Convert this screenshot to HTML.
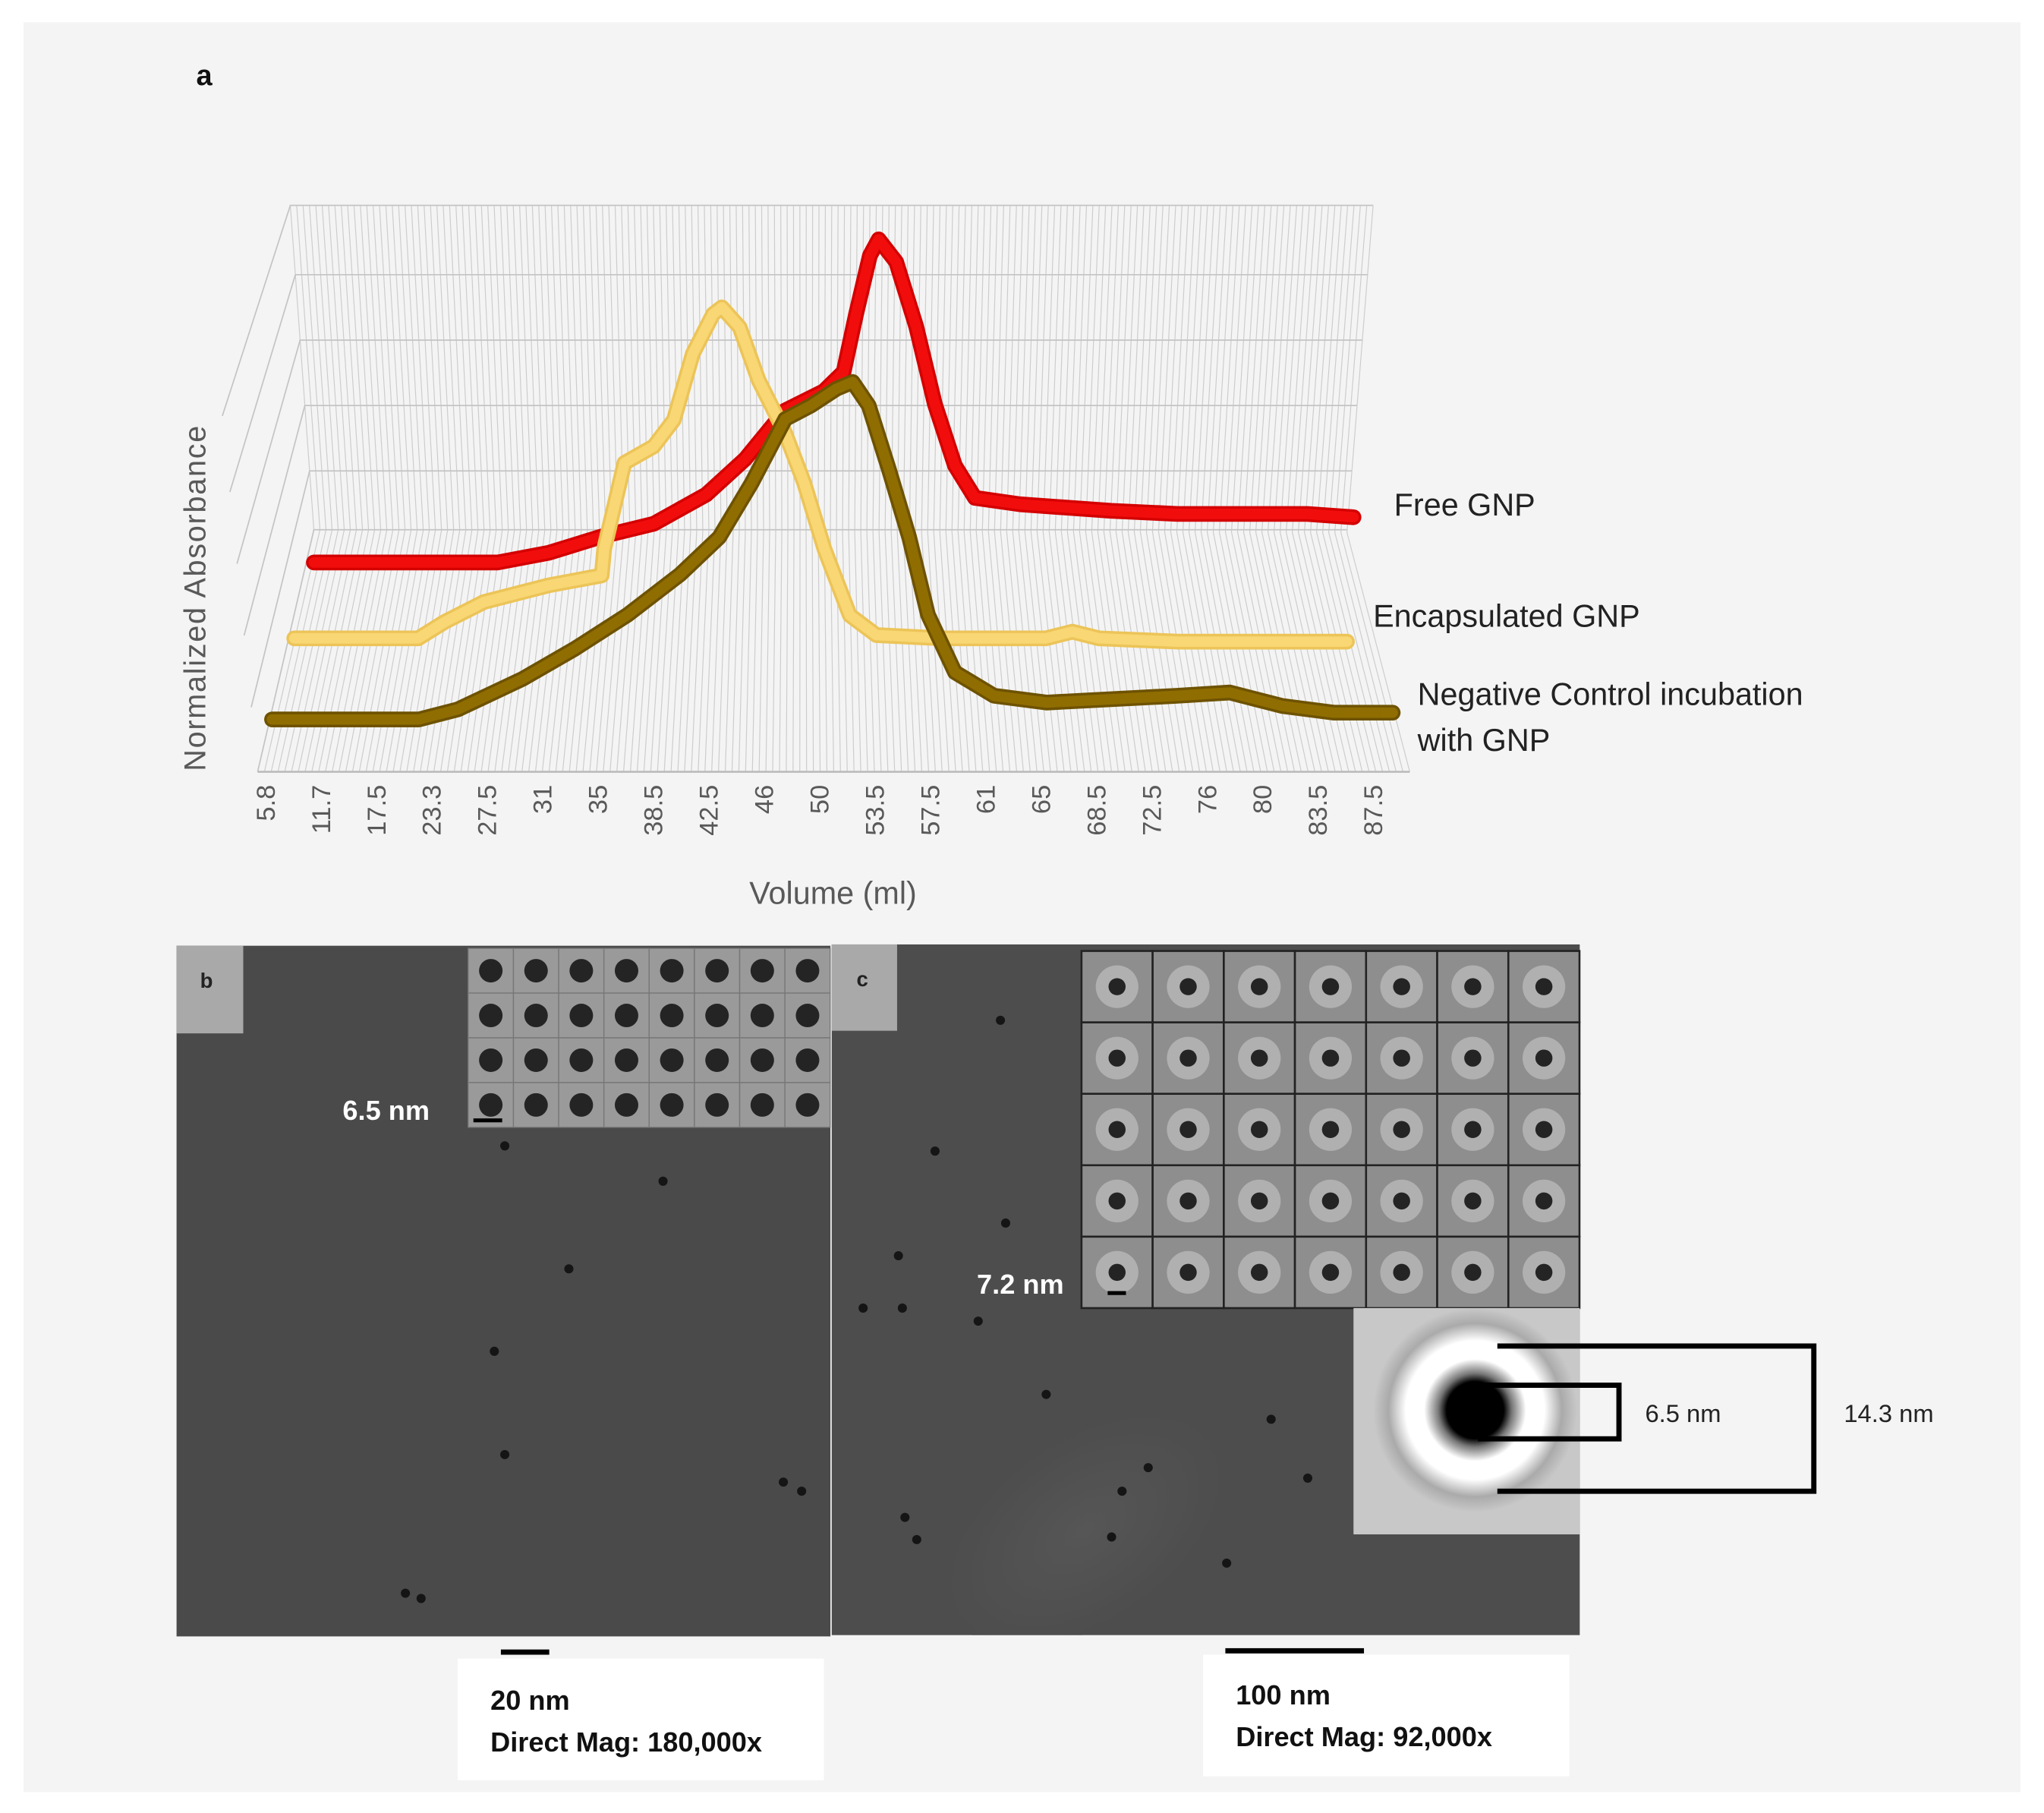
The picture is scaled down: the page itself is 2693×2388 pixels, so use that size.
<!DOCTYPE html>
<html><head><meta charset="utf-8">
<style>
html,body{margin:0;padding:0;background:#fff;}
svg{display:block;}
text{font-family:"Liberation Sans",sans-serif;}
</style></head>
<body>
<svg id="fig" width="2693" height="2388" viewBox="0 0 1563 1386" xmlns="http://www.w3.org/2000/svg">
  <defs>
    <radialGradient id="ringG" cx="0.5" cy="0.5" r="0.5">
      <stop offset="0" stop-color="#000"/>
      <stop offset="0.28" stop-color="#000"/>
      <stop offset="0.36" stop-color="#777"/>
      <stop offset="0.5" stop-color="#fff"/>
      <stop offset="0.68" stop-color="#fff"/>
      <stop offset="0.85" stop-color="#aaa"/>
      <stop offset="1" stop-color="#c8c8c8"/>
    </radialGradient>
    <radialGradient id="blurG" cx="0.5" cy="0.5" r="0.5">
      <stop offset="0" stop-color="#565656"/>
      <stop offset="1" stop-color="#4d4d4d"/>
    </radialGradient>
    <clipPath id="clipC"><rect x="636" y="722" width="572" height="528"/></clipPath>
  </defs>
  <rect x="18" y="17" width="1527" height="1353" fill="#f4f4f4"/>
  <text x="150" y="65" font-size="22" font-weight="bold" fill="#111">a</text>
  <g id="grid"></g>
  <g id="series"></g>
  <g id="ticks"></g>
  <text x="637" y="691" font-size="24" fill="#595959" text-anchor="middle">Volume (ml)</text>
  <text transform="translate(157,457) rotate(-90)" font-size="23" fill="#595959" text-anchor="middle" letter-spacing="1">Normalized Absorbance</text>
  <text x="1066" y="394" font-size="24" fill="#222">Free GNP</text>
  <text x="1050" y="479" font-size="24" fill="#222">Encapsulated GNP</text>
  <text x="1084" y="539" font-size="24" fill="#222">Negative Control incubation</text>
  <text x="1084" y="574" font-size="24" fill="#222">with GNP</text>

  <!-- Panel b -->
  <rect x="135" y="723" width="500" height="528" fill="#4a4a4a"/>
  <rect x="135" y="723" width="51" height="67" fill="#a9a9a9"/>
  <text x="153" y="755" font-size="16" font-weight="bold" fill="#222">b</text>
  <g id="gridB"></g>
  <text x="262" y="856" font-size="21" font-weight="bold" fill="#fff">6.5 nm</text>
  <rect x="362" y="855" width="22" height="3" fill="#000"/>

  <!-- Panel c -->
  <rect x="636" y="722" width="572" height="528" fill="#4d4d4d"/>
  <g clip-path="url(#clipC)">
    <ellipse cx="830" cy="1170" rx="120" ry="70" fill="url(#blurG)" transform="rotate(-35 830 1170)"/>
  </g>
  <rect x="636" y="722" width="50" height="66" fill="#a9a9a9"/>
  <text x="655" y="754" font-size="16" font-weight="bold" fill="#222">c</text>
  <g id="gridC"></g>
  <text x="747" y="989" font-size="21" font-weight="bold" fill="#fff">7.2 nm</text>
  <rect x="847" y="987" width="14" height="3" fill="#000"/>
  <g id="dots"></g>

  <rect x="1035" y="1000" width="173" height="173" fill="#c8c8c8"/>
  <circle cx="1128" cy="1078" r="78" fill="url(#ringG)"/>
  <polyline points="1145,1029 1387,1029 1387,1140 1145,1140" fill="none" stroke="#000" stroke-width="4"/>
  <polyline points="1130,1059 1238,1059 1238,1100 1130,1100" fill="none" stroke="#000" stroke-width="4"/>
  <text x="1258" y="1087" font-size="19" fill="#222">6.5 nm</text>
  <text x="1410" y="1087" font-size="19" fill="#222">14.3 nm</text>

  <rect x="383" y="1261" width="37" height="4" fill="#000"/>
  <rect x="937" y="1260" width="106" height="4" fill="#000"/>
  <rect x="350" y="1268" width="280" height="93" fill="#fff"/>
  <text x="375" y="1307" font-size="21" font-weight="bold" fill="#111">20 nm</text>
  <text x="375" y="1339" font-size="21" font-weight="bold" fill="#111">Direct Mag: 180,000x</text>
  <rect x="920" y="1265" width="280" height="93" fill="#fff"/>
  <text x="945" y="1303" font-size="21" font-weight="bold" fill="#111">100 nm</text>
  <text x="945" y="1335" font-size="21" font-weight="bold" fill="#111">Direct Mag: 92,000x</text>
</svg>
<script>
// ---- chart data ----
const tickLabels = ["5.8","11.7","17.5","23.3","27.5","31","35","38.5","42.5","46","50","53.5","57.5","61","65","68.5","72.5","76","80","83.5","87.5"];
const freeVol = [5.8,12.1,20.5,24.6,28.8,33.0,37.2,40.3,43.5,46.6,48.2,49.2,50.3,51.0,52.4,54.0,55.5,57.1,58.7,62.3,69.6,74.9,80.1,85.3,89];
const freeVal = [0,0,0,.03,.08,.12,.21,.32,.47,.53,.59,.77,.95,1.0,.93,.73,.49,.30,.20,.18,.16,.15,.15,.15,.14];
const encVol = [5.8,15.6,17.7,20.8,25.9,30.1,30.3,31.9,34.2,35.8,37.3,38.9,39.6,41.0,42.5,44.6,46.1,47.7,49.7,51.8,57,65.2,67.3,69.4,75.6,89];
const encVal = [0,0,.05,.11,.16,.19,.27,.53,.58,.66,.86,.98,1,.94,.78,.62,.47,.27,.07,.01,0,0,.02,0,-.01,-.01];
const negVol = [5.8,16.7,19.6,24.4,28.3,32.2,36.1,39.0,41.4,43.9,45.8,47.7,48.9,50.1,51.6,53.1,54.5,56.5,59.4,63.3,73,76.9,80.8,84.6,89];
const negVal = [0,0,.03,.12,.21,.31,.43,.54,.70,.89,.93,.98,1,.93,.74,.54,.31,.14,.07,.05,.07,.08,.04,.02,.02];

const NS="http://www.w3.org/2000/svg";
function mk(tag,attrs,parent){const e=document.createElementNS(NS,tag);for(const k in attrs)e.setAttribute(k,attrs[k]);parent.appendChild(e);return e;}
const lerp=(a,b,t)=>a+(b-a)*t;

// ---- 3D walls ----
const grid=document.getElementById('grid');
const N=170;
for(let i=0;i<=N;i++){
  const t=i/N;
  const xt=lerp(222,1050,t), xb=lerp(240,1030,t), xf=lerp(197,1078,t);
  const yb=lerp(405,407,t);
  const l=mk('polyline',{points:`${xt},157 ${xb},${yb} ${xf},590`,fill:'none',stroke:'#cdcdcd','stroke-width':0.7},grid);
  
  
}
const hys=[157,210,260,310,360,405];
hys.forEach((y,k)=>{
  const t=(y-157)/(405-157);
  const xl=lerp(222,240,t);
  const fx=lerp(170,197,t), fy=lerp(318,590,t);
  const h=mk('polyline',{points:`${fx},${fy} ${xl},${y} ${lerp(1050,1030,t)},${y}`,fill:'none',stroke:'#c4c4c4','stroke-width':1},grid);
  
  
});
const fl=mk('line',{x1:197,y1:590,x2:1078,y2:590,stroke:'#bbb','stroke-width':1.5},grid);



// ---- series ----
const seriesG=document.getElementById('series');
function xScale(v,x0,x1){return x0+(v-5.8)/(89-5.8)*(x1-x0);}
function drawSeries(vols,vals,x0,x1,base,range,color,edge,name){
  const pts=vols.map((v,i)=>`${xScale(v,x0,x1).toFixed(1)},${(base-vals[i]*range).toFixed(1)}`).join(' ');
  const e=mk('polyline',{points:pts,fill:'none',stroke:edge,'stroke-width':12,'stroke-linejoin':'round','stroke-linecap':'round'},seriesG);
  
  
  const p=mk('polyline',{points:pts,fill:'none',stroke:color,'stroke-width':8,'stroke-linejoin':'round','stroke-linecap':'round'},seriesG);
  
  
}
drawSeries(freeVol,freeVal,240,1035,430,247,'#f20d0d','#d40000','series-free-gnp');
drawSeries(encVol,encVal,225,1030,488,253,'#f8d774','#ecc458','series-encapsulated-gnp');
drawSeries(negVol,negVal,208,1065,550,258,'#8f6d00','#6e5200','series-negative-control');

// ---- ticks ----
const ticks=document.getElementById('ticks');
tickLabels.forEach((lab,i)=>{
  const x=lerp(203,1050,i/(tickLabels.length-1));
  const t=mk('text',{transform:`translate(${x+7},600) rotate(-90)`,'font-size':20,fill:'#595959','text-anchor':'end'},ticks);
  t.textContent=lab;
  
  
});

// ---- particle galleries ----
function gallery(gid,x0,y0,cols,rows,w,h,ring){
  const g=document.getElementById(gid);
  for(let r=0;r<rows;r++)for(let c=0;c<cols;c++){
    const x=x0+c*w,y=y0+r*h;
    const cell=mk('rect',{x:x,y:y,width:w,height:h,fill:ring?'#8e8e8e':'#9a9a9a',stroke:ring?'#222':'#777','stroke-width':ring?1.5:0.8},g);
    
    
    if(ring){
      const rr=mk('circle',{cx:x+w/2,cy:y+h/2,r:w*0.3,fill:'#b0b0b0'},g);
      
      
    }
    const d=mk('circle',{cx:x+w/2,cy:y+h/2,r:ring?w*0.12:w*0.26,fill:'#242424'},g);
    
    
  }
}
gallery('gridB',358,725,8,4,34.6,34.2,false);
gallery('gridC',827,727,7,5,54.4,54.6,true);

// ---- scattered dots ----
const dotXY=[[386,876],[507,903],[435,970],[378,1033],[386,1112],[599,1133],[613,1140],[310,1218],[322,1222],[687,960],[690,1000],[748,1010],[769,935],[800,1066],[878,1122],[692,1160],[701,1177],[972,1085],[1000,1130],[938,1195],[858,1140],[850,1175],[660,1000],[715,880],[765,780]];
const dg=document.getElementById('dots');
dotXY.forEach(p=>{
  const d=mk('circle',{cx:p[0],cy:p[1],r:3.5,fill:'#151515'},dg);
  
  
});
</script>
</body></html>
